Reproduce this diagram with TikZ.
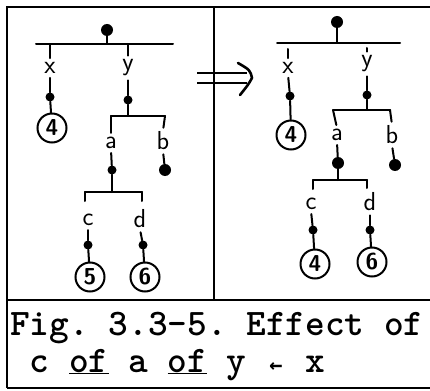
\documentclass[tikz,border=0pt]{standalone}
\usepackage{fontspec}
\newfontfamily\arrmono{DejaVu Sans Mono}
\begin{document}
\frenchspacing
\begin{tikzpicture}[x=1pt,y=-1pt,
  ln/.style={line width=2pt, line cap=round},
  stub/.style={line width=2pt, line cap=round, shorten >=3pt},
  hang/.style={line width=2pt, line cap=round, shorten <=3pt},
  frame/.style={line width=2pt},
  dotn/.style={circle, fill=black, inner sep=0pt, minimum size=9pt},
  bigdot/.style={circle, fill=black, inner sep=0pt, minimum size=12pt},
  lab/.style={inner sep=1pt, font=\sffamily\fontsize{26}{26}\selectfont},
  valc/.style={circle, draw, line width=2pt, inner sep=0pt, minimum size=29pt, font=\sffamily\bfseries\fontsize{23}{23}\selectfont},
  captext/.style={anchor=base west, inner sep=0pt, font=\ttfamily\bfseries\fontsize{37.5}{37.5}\selectfont}
]
\useasboundingbox (0,0) rectangle (430,390);
% frame
\draw[frame] (7,388) -- (7,7) -- (430,7);
\draw[frame] (214,7) -- (214,300);
\draw[frame] (7,300) -- (430,300);
\draw[frame] (7,388) -- (430,388);

% ===== left tree =====
\node[bigdot] (Lr) at (107,30) {};
\coordinate (Lb1l) at (36,44); \coordinate (Lb1r) at (173,44);
\draw[ln] (Lr) -- (107,44);
\draw[ln] (Lb1l) -- (Lb1r);
\node[lab] (Lx) at (50,68) {x};
\node[lab] (Ly) at (128,68) {y};
\draw[stub] (50,44) -- (Lx.north);
\draw[stub] (128,44) -- (Ly.north);
\node[dotn] (Lxd) at (50,97) {};
\node[valc] (L4) at (52,128) {4};
\draw[hang] (Lx.south) -- (Lxd);
\draw[ln] (Lxd) -- (L4);
\node[dotn] (Lyd) at (128,100) {};
\draw[hang] (Ly.south) -- (Lyd);
\coordinate (Lb2l) at (111,116); \coordinate (Lb2r) at (165,116);
\draw[ln] (Lyd) -- (128,116);
\draw[ln] (Lb2l) -- (Lb2r);
\node[lab] (La) at (111,143) {a};
\node[lab] (Lbb) at (163,141) {b};
\draw[stub] (Lb2l) -- (La.north);
\draw[stub] (Lb2r) -- (Lbb.north);
\node[dotn] (Lad) at (112,170) {};
\node[bigdot] (Lbd) at (165,170) {};
\draw[hang] (La.south) -- (Lad);
\draw[hang] (Lbb.south) -- (Lbd);
\coordinate (Lb3l) at (85,192); \coordinate (Lb3r) at (142,192);
\draw[ln] (Lad) -- (112,192);
\draw[ln] (Lb3l) -- (Lb3r);
\node[lab] (Lc) at (88,220) {c};
\node[lab] (Ld) at (140,219) {d};
\draw[ln] (Lb3l) -- (85,201);
\draw[ln] (Lb3r) -- (142,201);
\node[dotn] (Lcd) at (88,245) {};
\node[dotn] (Ldd) at (143,245) {};
\node[valc] (L5) at (90,277) {5};
\node[valc] (L6) at (145,277) {6};
\draw[hang] (Lc.south) -- (Lcd);
\draw[ln] (Lcd) -- (L5);
\draw[hang] (Ld.south) -- (Ldd);
\draw[ln] (Ldd) -- (L6);

% ===== arrow =====
\coordinate (A1) at (197,73); \coordinate (A2) at (197,83);
\coordinate (At) at (252,78);
\draw[line width=2.4pt] (A1) -- (247,73);
\draw[line width=2.4pt] (A2) -- (247,83);
\draw[line width=2.6pt, line cap=round, line join=round] (238,63) .. controls (250,70) .. (At) .. controls (248,85) .. (240,95);

% ===== right tree =====
\node[bigdot] (Rr) at (337,22) {};
\coordinate (Rb1l) at (277,43); \coordinate (Rb1r) at (400,43);
\draw[ln] (Rr) -- (337,43);
\draw[ln] (Rb1l) -- (Rb1r);
\node[lab] (Rx) at (288,68) {x};
\node[lab] (Ry) at (367,64) {y};
\draw[stub] (288,49) -- (Rx.north);
\draw[stub] (367,48) -- (Ry.north);
\node[dotn] (Rxd) at (290,96) {};
\node[valc] (R4a) at (291,135) {4};
\draw[hang] (Rx.south) -- (Rxd);
\draw[ln] (Rxd) -- (R4a);
\node[dotn] (Ryd) at (367,95) {};
\draw[hang] (Ry.south) -- (Ryd);
\coordinate (Rb2l) at (333,110); \coordinate (Rb2r) at (390,110);
\draw[ln] (Ryd) -- (367,110);
\draw[ln] (Rb2l) -- (Rb2r);
\node[lab] (Ra) at (337,135) {a};
\node[lab] (Rbb) at (392,135) {b};
\draw[stub] (Rb2l) -- (Ra.north);
\draw[stub] (Rb2r) -- (Rbb.north);
\node[bigdot] (Rad) at (338,163) {};
\node[bigdot] (Rbd) at (395,165) {};
\draw[hang] (Ra.south) -- (Rad);
\draw[hang] (Rbb.south) -- (Rbd);
\coordinate (Rb3l) at (313,180); \coordinate (Rb3r) at (367,180);
\draw[ln] (Rad) -- (338,180);
\draw[ln] (Rb3l) -- (Rb3r);
\node[lab] (Rc) at (311,204) {c};
\node[lab] (Rd) at (370,202) {d};
\draw[ln] (Rb3l) -- (313,189);
\draw[ln] (Rb3r) -- (367,188);
\node[dotn] (Rcd) at (313,230) {};
\node[dotn] (Rdd) at (370,230) {};
\node[valc] (R4b) at (315,264) {4};
\node[valc] (R6) at (372,262) {6};
\draw[hang] (Rc.south) -- (Rcd);
\draw[ln] (Rcd) -- (R4b);
\draw[hang] (Rd.south) -- (Rdd);
\draw[ln] (Rdd) -- (R6);

% ===== caption =====
\node[captext] (cap1) at (10,335) {Fig. 3.3-5. Effect of};
\node[captext] (cap2) at (29.7,372) {c \underline{of} a \underline{of} y \makebox[19.7pt]{\arrmono\fontsize{22}{22}\selectfont ←} x};
\end{tikzpicture}
\end{document}
